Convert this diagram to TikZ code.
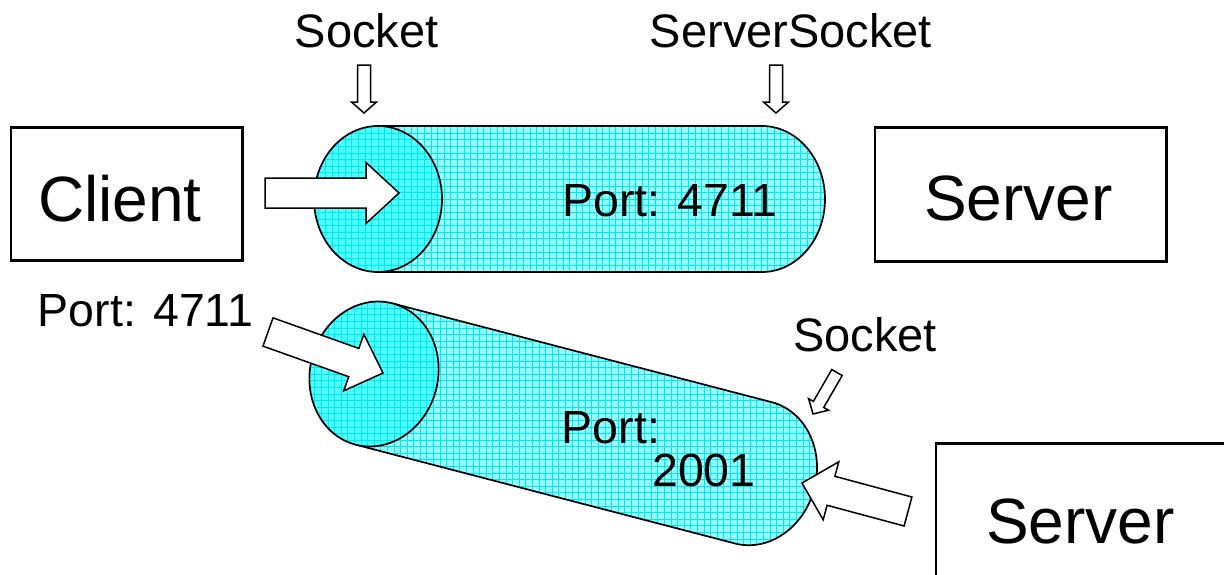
\documentclass[tikz,border=0pt]{standalone}
\usepackage{fontspec}
\setmainfont{Liberation Sans}
\usetikzlibrary{calc}

\definecolor{tubelight}{RGB}{150,255,255}
\definecolor{tubefront}{RGB}{80,255,255}
\definecolor{tubegrid}{RGB}{0,232,242}

\tikzset{
  box/.style={draw=black, line width=2.7pt, fill=white, inner sep=0pt, anchor=north west},
  tube/.style={draw=black, line width=1.7pt},
  gridlines/.style={draw=tubegrid, line width=0.6pt, step=6.6pt},
  arrowbody/.style={draw=black, fill=white, line width=1.5pt, line join=miter},
  lbl/.style={anchor=base, inner sep=0pt, font=\fontsize{47}{56}\selectfont},
  portlbl/.style={anchor=base, inner sep=0pt, font=\fontsize{46.5}{56}\selectfont},
  biglbl/.style={anchor=base, inner sep=0pt, font=\fontsize{64}{76}\selectfont},
}

% Outlined block arrow from #1 (tail centre) to #2 (tip):
% #3 shaft half width, #4 head half width, #5 head length (all in pt)
\newcommand\blockarrow[5]{%
  \path let \p1=(#1), \p2=(#2) in
    \pgfextra{%
      \pgfmathsetmacro\baang{atan2(\y2-\y1,\x2-\x1)}%
      \pgfmathsetmacro\balen{veclen(\x2-\x1,\y2-\y1)}%
      \xdef\baang{\baang}\xdef\balen{\balen}};
  \pgfmathsetmacro\babase{\balen-#5}%
  \begin{scope}[shift={(#1)}, rotate=\baang]
    \draw[arrowbody] (0pt,#3pt) -- (\babase pt,#3pt) -- (\babase pt,#4pt)
      -- (\balen pt,0pt) -- (\babase pt,-#4pt) -- (\babase pt,-#3pt)
      -- (0pt,-#3pt) -- cycle;
  \end{scope}}

% Gridded tube: #1 front-face centre, #2 axis angle, #3 length to the rear cap centre
\newcommand\drawtube[3]{%
  \begin{scope}[shift={(#1)}, rotate=#2]
    \begin{scope}
      \clip (0pt,73pt) -- (#3pt,73pt)
        arc[start angle=90, end angle=-90, x radius=63pt, y radius=73pt]
        -- (0pt,-73pt) -- cycle;
      \fill[tubelight] (-80pt,-90pt) rectangle (#3pt+80pt,90pt);
      \draw[gridlines, rotate={0-(#2)}] (-200pt,-300pt) grid (#3pt+200pt,300pt);
    \end{scope}
    \draw[tube] (0pt,73pt) -- (#3pt,73pt)
      arc[start angle=90, end angle=-90, x radius=63pt, y radius=73pt]
      -- (0pt,-73pt);
    \begin{scope}
      \clip (0pt,0pt) ellipse [x radius=64pt, y radius=73pt];
      \fill[tubefront] (-70pt,-80pt) rectangle (70pt,80pt);
      \draw[gridlines, rotate={0-(#2)}] (-130pt,-130pt) grid (130pt,130pt);
    \end{scope}
    \draw[tube] (0pt,0pt) ellipse [x radius=64pt, y radius=73pt];
  \end{scope}}

\begin{document}
\begin{tikzpicture}[x=1pt, y=-1pt]
\useasboundingbox (0,0) rectangle (1224,574);

% endpoints of the two tubes
\coordinate (tubeA) at (378,199);
\coordinate (tubeB) at (374,374);

\begin{scope}
  \clip (0,0) rectangle (1224,574);

  % hosts
  \node[box, minimum width=231.3pt, minimum height=132.7pt] (client) at (9.7,126.3) {};
  \node[box, minimum width=291.6pt, minimum height=133.7pt] (server) at (873.7,126.3) {};
  \node[box, minimum width=330pt, minimum height=200pt] (server2) at (934.7,442.3) {};

  % connection tubes
  \drawtube{tubeA}{0}{384}
  \drawtube{tubeB}{-14.6}{392}
\end{scope}

% texts
\node[lbl] (sockettop) at (366.5,47) {Socket};
\node[lbl] (serversockettop) at (791,47) {ServerSocket};
\node[biglbl] (clienttxt) at (120,221) {Client};
\node[biglbl] (servertxt) at (1018.5,220) {Server};
\node[portlbl] (portA) at (670,216) {Port: 4711};
\node[portlbl] (portB) at (145.5,326) {Port: 4711};
\node[lbl] (socketlow) at (865,351) {Socket};
\node[portlbl] (portC) at (611,443) {Port:};
\node[portlbl] (portD) at (704,486) {2001};
\node[biglbl] (servertxt2) at (1080.5,543) {Server};

% arrow end points
\coordinate (a1tail) at (265,193);   \coordinate (a1tip) at (399,193);
\coordinate (a2tail) at (268,332);   \coordinate (a2tip) at (383,373);
\coordinate (a3tail) at (908,511.5); \coordinate (a3tip) at (802,483);
\coordinate (s1tail) at (364,65);    \coordinate (s1tip) at (364,113);
\coordinate (s2tail) at (776,65);    \coordinate (s2tip) at (776,113);
\coordinate (s3tail) at (837,372.5); \coordinate (s3tip) at (813,414);

% block arrows
\blockarrow{a1tail}{a1tip}{15}{30.5}{33}
\blockarrow{a2tail}{a2tip}{15}{30}{31}
\blockarrow{a3tail}{a3tip}{15}{30}{30}
\blockarrow{s1tail}{s1tip}{6.5}{12.5}{11}
\blockarrow{s2tail}{s2tip}{6.5}{12.5}{11}
\blockarrow{s3tail}{s3tip}{6}{11.5}{11}
\end{tikzpicture}
\end{document}
